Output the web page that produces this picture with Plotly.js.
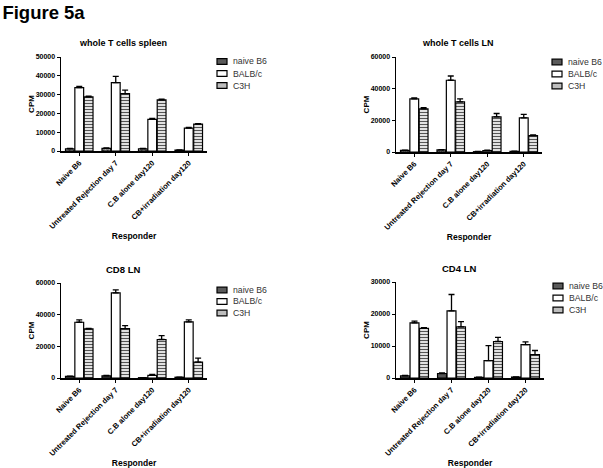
<!DOCTYPE html>
<html>
<head>
<meta charset="utf-8">
<script src="https://cdn.plot.ly/plotly-3.0.1.min.js"></script>
<style>html,body{margin:0;padding:0;background:#fff;}#chart{width:603px;height:468px;}</style>
</head>
<body>
<div id="chart"></div>
<script>
// ---- data ----
var categories = ["Naive B6", "Untreated Rejection day 7", "C.B alone day120", "CB+irradiation day120"];
var seriesNames = ["naive B6", "BALB/c", "C3H"];

var spleenNaive = [1200, 1400, 1200, 500];
var spleenBalb  = [33700, 36400, 16800, 12200];
var spleenC3h   = [28800, 30500, 27200, 14300];
var spleenNaiveErr = [200, 200, 200, 150];
var spleenBalbErr  = [700, 3300, 500, 400];
var spleenC3hErr   = [400, 1900, 400, 300];

var lnNaive = [1000, 1300, 200, 400];
var lnBalb  = [33500, 45300, 900, 21500];
var lnC3h   = [27300, 31600, 22200, 10300];
var lnNaiveErr = [150, 200, 100, 100];
var lnBalbErr  = [700, 2700, 300, 2300];
var lnC3hErr   = [700, 1900, 2100, 500];

var cd8Naive = [1000, 1400, 200, 500];
var cd8Balb  = [35200, 53700, 1700, 35400];
var cd8C3h   = [31000, 31200, 24300, 10000];
var cd8NaiveErr = [150, 200, 100, 100];
var cd8BalbErr  = [1500, 1900, 500, 1300];
var cd8C3hErr   = [400, 1900, 2400, 2600];

var cd4Naive = [700, 1400, 200, 300];
var cd4Balb  = [17200, 21000, 5400, 10400];
var cd4C3h   = [15500, 16000, 11400, 7300];
var cd4NaiveErr = [100, 200, 50, 50];
var cd4BalbErr  = [600, 5100, 4700, 900];
var cd4C3hErr   = [200, 1600, 1300, 1300];

var panelTitles = ["whole T cells spleen", "whole T cells LN", "CD8 LN", "CD4 LN"];
var yMax = [50000, 60000, 60000, 30000];
var yStep = [10000, 20000, 20000, 10000];

// ---- layout helpers ----
var W = 603, H = 468;
function px(x) { return x / W; }
function py(y) { return (H - y) / H; }
var FONT = "Liberation Sans, Arial, sans-serif";

var panels = [
  {x0: 61, x1: 207, yb: 151, yt: 57, data: [spleenNaive, spleenBalb, spleenC3h], err: [spleenNaiveErr, spleenBalbErr, spleenC3hErr], top: true,
   title: [123, 43, 9], leg: [217, 61.5, 12]},
  {x0: 396, x1: 542, yb: 152, yt: 57, data: [lnNaive, lnBalb, lnC3h], err: [lnNaiveErr, lnBalbErr, lnC3hErr], top: true,
   title: [458, 43, 9], leg: [552, 62, 12]},
  {x0: 61, x1: 207, yb: 378, yt: 283, data: [cd8Naive, cd8Balb, cd8C3h], err: [cd8NaiveErr, cd8BalbErr, cd8C3hErr], top: false,
   title: [123, 269, 9.5], leg: [217, 290, 11.5]},
  {x0: 396, x1: 544, yb: 378, yt: 282, data: [cd4Naive, cd4Balb, cd4C3h], err: [cd4NaiveErr, cd4BalbErr, cd4C3hErr], top: false,
   title: [459, 268, 9.5], leg: [553, 286, 12]}
];

var traces = [];
var layout = {
  width: W, height: H,
  margin: {l: 0, r: 0, t: 0, b: 0},
  paper_bgcolor: "#fff", plot_bgcolor: "#fff",
  showlegend: false,
  barmode: "group", bargap: 0.23, bargroupgap: 0.06,
  font: {family: FONT, color: "#000"},
  title: {text: "Figure 5a", font: {family: FONT, size: 18.5, weight: "bold", color: "#000"},
          x: 0.004, xanchor: "left", xref: "paper", y: 1 - 13 / H, yanchor: "middle", yref: "container"},
  annotations: [], shapes: []
};

var legendStyles = [
  {fill: "#5a5a5a"},
  {fill: "#ffffff"},
  {fill: "#bdbdbd"}
];

panels.forEach(function (p, i) {
  var n = i + 1;
  var xa = "x" + (n === 1 ? "" : n), ya = "y" + (n === 1 ? "" : n);
  var xkey = "xaxis" + (n === 1 ? "" : n), ykey = "yaxis" + (n === 1 ? "" : n);
  var naiveMarker = p.top
    ? {color: "#8a8a8a", line: {color: "#000", width: 1.2}, pattern: {shape: "x", fgcolor: "#333", bgcolor: "#aaa", size: 3, solidity: 0.35}}
    : {color: "#555", line: {color: "#000", width: 1.2}};
  var markers = [
    naiveMarker,
    {color: "#fff", line: {color: "#000", width: 1.2}},
    {color: "#fff", line: {color: "#000", width: 1.2}, pattern: {shape: "-", fgcolor: "#555", bgcolor: "#fff", size: 3, solidity: 0.45}}
  ];
  for (var s = 0; s < 3; s++) {
    traces.push({
      type: "bar", name: seriesNames[s], x: categories, y: p.data[s],
      xaxis: xa, yaxis: ya, marker: markers[s],
      error_y: {type: "data", symmetric: false, array: p.err[s], arrayminus: p.err[s].map(function () { return 0; }),
                color: "#000", thickness: 1.3, width: 3}
    });
  }
  layout[xkey] = {
    domain: [px(p.x0), px(p.x1)], anchor: ya,
    type: "category", range: [-0.5, 3.5], fixedrange: true,
    showline: true, linecolor: "#000", linewidth: 1.5, mirror: false,
    ticks: "outside", ticklen: 3, tickwidth: 1, tickcolor: "#000",
    tickangle: -45, tickfont: {family: FONT, size: 7.6, weight: "bold", color: "#000"},
    showgrid: false, zeroline: false,
    title: {text: "Responder", font: {family: FONT, size: 8.5, weight: "bold", color: "#000"}, standoff: 0}
  };
  layout[ykey] = {
    domain: [py(p.yb), py(p.yt)], anchor: xa,
    range: [0, yMax[i]], dtick: yStep[i], tick0: 0, tickformat: "d", fixedrange: true,
    showline: true, linecolor: "#000", linewidth: 1.5,
    ticks: "outside", ticklen: 3, tickwidth: 1, tickcolor: "#000",
    tickfont: {family: FONT, size: 7, weight: "bold", color: "#000"},
    showgrid: false, zeroline: false,
    title: {text: "CPM", font: {family: FONT, size: 8, weight: "bold", color: "#000"}, standoff: 0}
  };
  layout.annotations.push({
    text: panelTitles[i], xref: "paper", yref: "paper", x: px(p.title[0]), y: py(p.title[1]),
    xanchor: "center", yanchor: "middle", showarrow: false,
    font: {family: FONT, size: p.title[2], weight: "bold", color: "#000"}
  });
  // legend (manual, compact)
  for (var k = 0; k < 3; k++) {
    var cy = p.leg[1] + k * p.leg[2];
    var st = legendStyles[k];
    layout.shapes.push({
      type: "rect", xref: "paper", yref: "paper",
      x0: px(p.leg[0]), x1: px(p.leg[0] + 10), y0: py(cy + 2.8), y1: py(cy - 2.8),
      fillcolor: st.fill, line: {color: "#000", width: 1.2}
    });
    layout.annotations.push({
      text: seriesNames[k], xref: "paper", yref: "paper", x: px(p.leg[0] + 14), y: py(cy),
      xanchor: "left", yanchor: "middle", showarrow: false,
      font: {family: FONT, size: 8.7, color: "#333"}
    });
  }
});

Plotly.newPlot("chart", traces, layout, {displayModeBar: false, staticPlot: true});
</script>
</body>
</html>
